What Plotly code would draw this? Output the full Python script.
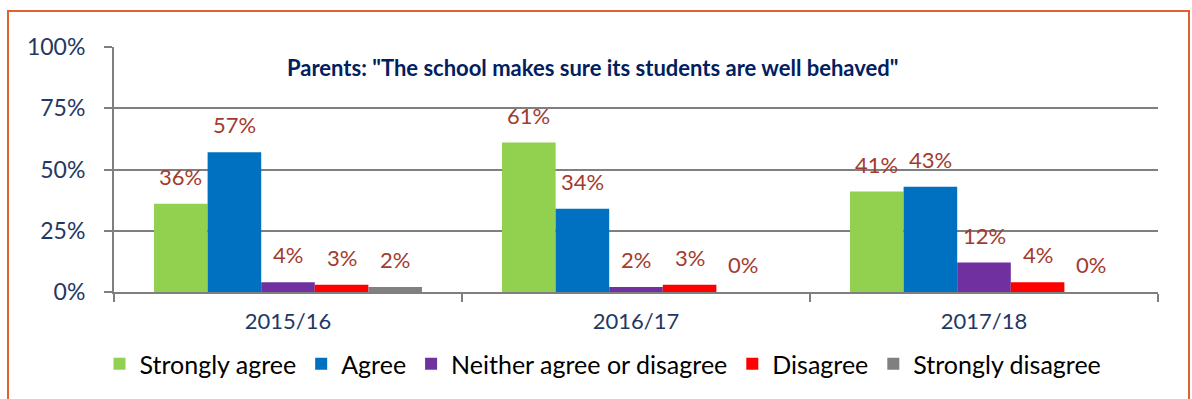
import plotly.graph_objects as go

categories = ["2015/16", "2016/17", "2017/18"]
series_names = ["Strongly agree", "Agree", "Neither agree or disagree", "Disagree", "Strongly disagree"]
strongly_agree = [36, 61, 41]
agree = [57, 34, 43]
neither = [4, 2, 12]
disagree = [3, 3, 4]
strongly_disagree = [2, 0, 0]
series_values = [strongly_agree, agree, neither, disagree, strongly_disagree]
colors = ["#92D050", "#0070C0", "#7030A0", "#FF0000", "#808080"]
y_ticks = [0, 25, 50, 75, 100]
y_tick_labels = ["0%", "25%", "50%", "75%", "100%"]
title_text = 'Parents: "The school makes sure its students are well behaved"'

FONT = "Lato, Calibri, sans-serif"
W, H = 1192, 399
ML, MR, MT, MB = 114, 34, 47, 107
BARGAP = 0.23
plot_w = W - ML - MR
plot_h = H - MT - MB
bar_px = plot_w / len(categories) * (1 - BARGAP) / len(series_names)

fig = go.Figure()
for name, vals, col in zip(series_names, series_values, colors):
    fig.add_trace(go.Bar(
        name=name, x=categories, y=vals, marker=dict(color=col, line=dict(width=0)),
    ))

annotations = []
n = len(series_names)
for i, vals in enumerate(series_values):
    for c, v in zip(categories, vals):
        annotations.append(dict(
            x=c, y=v, xref="x", yref="y", text=f"{v}%", showarrow=False,
            xshift=(i - (n - 1) / 2) * bar_px, yanchor="bottom", yshift=12,
            font=dict(family=FONT, size=22, color="#A23B2E"),
        ))
annotations.append(dict(
    x=(592 - ML) / plot_w, y=(H - MB - 67) / plot_h, xref="paper", yref="paper",
    text=f"<b>{title_text}</b>", showarrow=False, xanchor="center", yanchor="middle",
    font=dict(family=FONT, size=22, color="#002060"),
))

fig.update_layout(
    width=W, height=H,
    margin=dict(l=ML, r=MR, t=MT, b=MB),
    barmode="group", bargap=BARGAP, bargroupgap=0,
    plot_bgcolor="white", paper_bgcolor="white",
    annotations=annotations,
    showlegend=True,
    legend=dict(orientation="h", x=(603 - ML) / plot_w, xanchor="center", y=-0.2, yanchor="top",
                font=dict(family=FONT, size=25, color="#000000"),
                itemwidth=30, traceorder="normal"),
    shapes=[dict(type="rect", xref="paper", yref="paper",
                 x0=(8 - ML) / plot_w, x1=(1189 - ML) / plot_w,
                 y0=-0.6, y1=(H - MB - 11) / plot_h,
                 line=dict(color="#E0602E", width=2), fillcolor="rgba(0,0,0,0)", layer="below")],
)
fig.update_yaxes(
    range=[0, 100], tickvals=y_ticks, ticktext=y_tick_labels,
    showgrid=True, gridcolor="#7F7F7F", gridwidth=2,
    showline=True, linecolor="#7F7F7F", linewidth=2,
    ticks="outside", ticklen=8, tickcolor="#7F7F7F", tickwidth=2,
    ticklabelstandoff=14,
    tickfont=dict(family=FONT, size=23, color="#1F3864"),
    zeroline=False, fixedrange=True,
)
fig.update_xaxes(
    showline=True, linecolor="#7F7F7F", linewidth=2,
    ticks="outside", tickson="boundaries", ticklen=8, tickcolor="#7F7F7F", tickwidth=2,
    ticklabelstandoff=9,
    tickfont=dict(family=FONT, size=22, color="#1F3864"),
    showgrid=False,
)
fig.write_html("out.html")
